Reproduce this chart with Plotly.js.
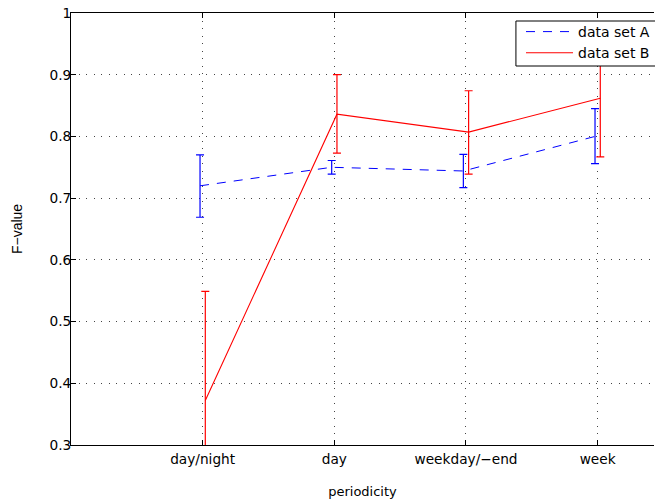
<!DOCTYPE html>
<html>
<head>
<meta charset="utf-8">
<script src="https://cdn.plot.ly/plotly-3.0.1.min.js"></script>
<style>
  html, body { margin: 0; padding: 0; background: #fff; }
  #chart { width: 655px; height: 504px; }
</style>
</head>
<body>
<div id="chart"></div>
<script>
// Categories (x axis)
const categories = ['day/night', 'day', 'weekday/\u2212end', 'week'];
const categoryIndex = [1, 2, 3, 4];

// Data set A
const meanA  = [0.720, 0.750, 0.744, 0.800];
const upperA = [0.770, 0.761, 0.771, 0.845];
const lowerA = [0.669, 0.739, 0.717, 0.756];

// Data set B
const meanB  = [0.372, 0.836, 0.807, 0.862];
const upperB = [0.549, 0.900, 0.874, 0.957];
const lowerB = [0.195, 0.773, 0.739, 0.767];

// Y ticks
const yTicks = [0.3, 0.4, 0.5, 0.6, 0.7, 0.8, 0.9, 1];
const yTickText = ['0.3', '0.4', '0.5', '0.6', '0.7', '0.8', '0.9', '1'];

const offset = 0.02;
const tickFont = { family: 'DejaVu Sans', size: 13.7, color: '#000' };
const titleFont = { family: 'DejaVu Sans', size: 13, color: '#000' };

const traceA = {
  x: categoryIndex.map(v => v - offset),
  y: meanA,
  mode: 'lines',
  name: 'data set A',
  line: { color: '#0000ff', width: 1, dash: '9px,8px' },
  error_y: {
    type: 'data', symmetric: false,
    array: upperA.map((u, i) => u - meanA[i]),
    arrayminus: lowerA.map((l, i) => meanA[i] - l),
    color: '#0000ff', thickness: 1.2, width: 4
  }
};

const traceB = {
  x: categoryIndex.map(v => v + offset),
  y: meanB,
  mode: 'lines',
  name: 'data set B',
  line: { color: '#ff0000', width: 1.1 },
  error_y: {
    type: 'data', symmetric: false,
    array: upperB.map((u, i) => u - meanB[i]),
    arrayminus: meanB.map((m, i) => m - lowerB[i]),
    color: '#ff0000', thickness: 1.2, width: 4
  }
};

const plotL = 71, plotT = 13, plotW = 584, plotH = 432;
const px2x = p => (p - plotL) / plotW;
const px2y = p => (plotT + plotH - p) / plotH;

const layout = {
  width: 655, height: 504,
  margin: { l: plotL, r: 0, t: plotT, b: 504 - plotT - plotH },
  paper_bgcolor: '#fff', plot_bgcolor: '#fff',
  showlegend: true,
  xaxis: {
    range: [0, 4.428],
    tickvals: categoryIndex, ticktext: categories,
    ticks: 'inside', ticklen: 5, tickcolor: '#000', tickwidth: 1,
    showline: true, linecolor: '#000', linewidth: 1, mirror: 'ticks',
    showgrid: true, gridcolor: '#444', griddash: '1px,6.5px', gridwidth: 1,
    zeroline: false, tickfont: tickFont, ticklabelstandoff: 2,
    title: { text: 'periodicity', font: titleFont, standoff: 20 }
  },
  yaxis: {
    range: [0.3, 1],
    tickvals: yTicks, ticktext: yTickText,
    ticks: 'inside', ticklen: 5, tickcolor: '#000', tickwidth: 1,
    showline: true, linecolor: '#000', linewidth: 1, mirror: false,
    showgrid: true, gridcolor: '#444', griddash: '1px,6.5px', gridwidth: 1,
    zeroline: false, tickfont: tickFont, ticklabelstandoff: -4,
    title: { text: 'F\u2212value', font: { family: 'Liberation Sans', size: 14, color: '#000' }, standoff: 23 }
  },
  shapes: [{
    type: 'rect', xref: 'paper', yref: 'paper', layer: 'above',
    x0: px2x(516.7), x1: px2x(680), y0: px2y(66), y1: px2y(21),
    fillcolor: '#fff', line: { color: '#000', width: 1 }
  }],
  legend: {
    x: px2x(522), xanchor: 'left',
    y: px2y(16), yanchor: 'top',
    bgcolor: 'rgba(0,0,0,0)', borderwidth: 0,
    font: { family: 'DejaVu Sans', size: 14, color: '#000' },
    itemwidth: 47, tracegroupgap: 0
  }
};

Plotly.newPlot('chart', [traceA, traceB], layout, { displayModeBar: false, staticPlot: true });
</script>
</body>
</html>
